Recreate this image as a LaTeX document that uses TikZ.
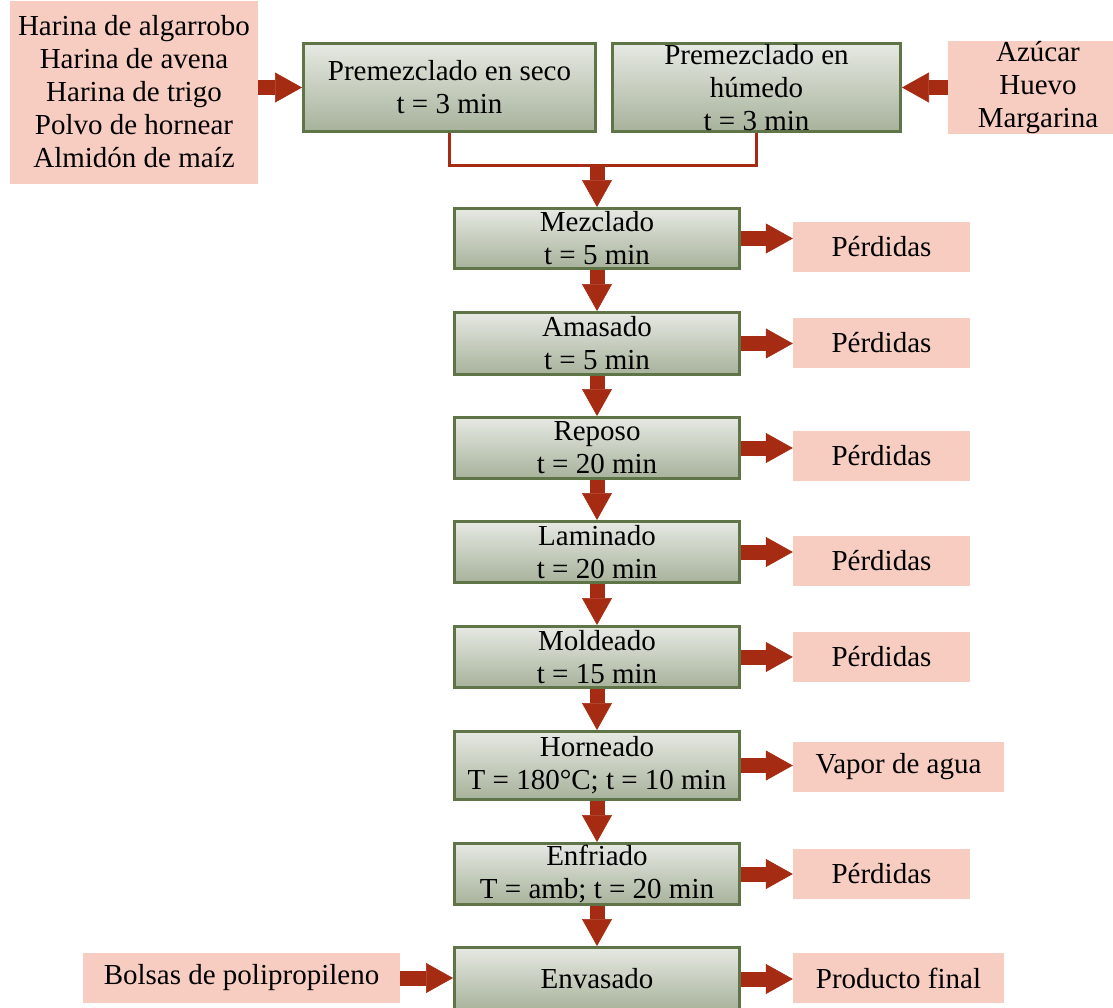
\documentclass[tikz,border=0pt]{standalone}
\usepackage{fontspec}
\setmainfont{Liberation Serif}
\usetikzlibrary{arrows.meta,calc}

\definecolor{gTop}{HTML}{E6E9E3}
\definecolor{gBot}{HTML}{A7B29B}
\definecolor{gEdge}{HTML}{5F7447}
\definecolor{pinkFill}{HTML}{F8CDC1}
\definecolor{arrowRed}{HTML}{A52B12}

\tikzset{
  stage/.style={draw=gEdge, line width=3pt, top color=gTop, bottom color=gBot,
    minimum width=285pt, align=center, inner sep=0pt},
  inout/.style={fill=pinkFill, align=center, inner sep=0pt},
  flow/.style={draw=arrowRed, line width=15pt,
    -{Triangle[length=27pt,width=30pt,line width=0.6pt]}},
  joinline/.style={draw=arrowRed, line width=3pt},
}

\begin{document}
\begin{tikzpicture}[x=1pt,y=-1pt,font=\fontsize{29}{33}\selectfont]
\clip (0,0) rectangle (1113,1007);
\useasboundingbox (0,0) rectangle (1113,1007);

% raw materials
\node[inout, minimum width=248pt, minimum height=183pt] (inL) at (134,92)
  {Harina de algarrobo\\Harina de avena\\Harina de trigo\\Polvo de hornear\\Almidón de maíz};
\node[inout, minimum width=180pt, minimum height=91pt] (inR) at (1038,87.5)
  {Azúcar\\Huevo\\Margarina};

% pre-mixing stages
\node[stage, minimum width=292pt, minimum height=88pt] (seco) at (449.5,87.5)
  {Premezclado en seco\\t = 3 min};
\node[stage, minimum width=288pt, minimum height=88pt] (humedo) at (756.5,87.5)
  {Premezclado en\\húmedo\\t = 3 min};

% main process line
\node[stage, minimum height=60pt] (mez) at (597,238.5) {Mezclado\\t = 5 min};
\node[stage, minimum height=62pt] (ama) at (597,343.5) {Amasado\\t = 5 min};
\node[stage, minimum height=61pt] (rep) at (597,448) {Reposo\\t = 20 min};
\node[stage, minimum height=61pt] (lam) at (597,552) {Laminado\\t = 20 min};
\node[stage, minimum height=61pt] (mol) at (597,657) {Moldeado\\t = 15 min};
\node[stage, minimum height=68pt] (hor) at (597,765.5) {Horneado\\T = 180°C; t = 10 min};
\node[stage, minimum height=61pt] (enf) at (597,874) {Enfriado\\T = amb; t = 20 min};
\node[stage, minimum height=63pt] (env) at (597,979) {Envasado};

% outputs
\node[inout, minimum width=177pt, minimum height=50pt] (p1) at (881.5,247) {Pérdidas};
\node[inout, minimum width=177pt, minimum height=50pt] (p2) at (881.5,343) {Pérdidas};
\node[inout, minimum width=177pt, minimum height=50pt] (p3) at (881.5,456) {Pérdidas};
\node[inout, minimum width=177pt, minimum height=50pt] (p4) at (881.5,561) {Pérdidas};
\node[inout, minimum width=177pt, minimum height=50pt] (p5) at (881.5,657) {Pérdidas};
\node[inout, minimum width=211pt, minimum height=50pt] (vap) at (898.5,767) {Vapor de agua};
\node[inout, minimum width=177pt, minimum height=50pt] (p7) at (881.5,874) {Pérdidas};
\node[inout, minimum width=211pt, minimum height=50pt] (prod) at (898.5,978) {Producto final};
\node[inout, minimum width=317pt, minimum height=50pt] (bol) at (241.5,978) {Bolsas de polipropileno};

% inputs into pre-mixing
\draw[flow] (inL.east |- seco.west) -- (seco.west);
\draw[flow] (inR.west) -- (humedo.east);

% joining line of both pre-mixes
\coordinate (junc) at (597,165);
\draw[joinline] (seco.south) |- (junc) -| (humedo.south);
\draw[flow] (junc) -- (mez.north);

% downward flow
\draw[flow] (mez.south) -- (ama.north);
\draw[flow] (ama.south) -- (rep.north);
\draw[flow] (rep.south) -- (lam.north);
\draw[flow] (lam.south) -- (mol.north);
\draw[flow] (mol.south) -- (hor.north);
\draw[flow] (hor.south) -- (enf.north);
\draw[flow] (enf.south) -- (env.north);

% side outputs
\draw[flow] (mez.east) -- (p1.west |- mez.east);
\draw[flow] (ama.east) -- (p2.west |- ama.east);
\draw[flow] (rep.east) -- (p3.west |- rep.east);
\draw[flow] (lam.east) -- (p4.west |- lam.east);
\draw[flow] (mol.east) -- (p5.west |- mol.east);
\draw[flow] (hor.east) -- (vap.west |- hor.east);
\draw[flow] (enf.east) -- (p7.west |- enf.east);
\draw[flow] (env.east) -- (prod.west |- env.east);
\draw[flow] (bol.east) -- (env.west |- bol.east);
\end{tikzpicture}
\end{document}
